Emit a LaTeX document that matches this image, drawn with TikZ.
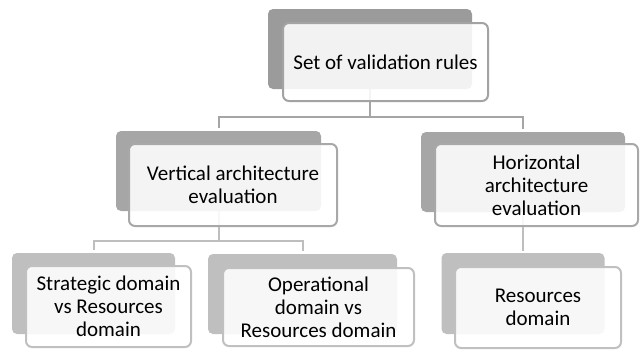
\documentclass[tikz,border=0pt]{standalone}
\usepackage{fontspec}
\setmainfont{Carlito}
\usetikzlibrary{calc}
\definecolor{shadeA}{RGB}{155,155,155}
\definecolor{shadeB}{RGB}{166,166,166}
\definecolor{shadeC}{RGB}{191,191,191}
\definecolor{rimA}{RGB}{163,163,163}
\definecolor{rimB}{RGB}{168,168,168}
\definecolor{rimC}{RGB}{192,192,192}
\definecolor{wireA}{RGB}{165,165,165}
\definecolor{wireB}{RGB}{190,190,190}
\tikzset{
  shadowbox/.style={fill=#1, draw=none, rounded corners=5pt, inner sep=0pt},
  textbox/.style={draw=#1, line width=2pt, fill=white, fill opacity=0.88,
    text opacity=1, rounded corners=6pt, inner sep=0pt, align=center,
    font=\fontsize{21}{23}\selectfont},
  link/.style={draw=#1, line width=2pt},
}
\begin{document}
\begin{tikzpicture}[x=1pt,y=-1pt]
\useasboundingbox (0,0) rectangle (640,351);

% junction points of the branching connectors
\coordinate (j1) at (370,117);
\coordinate (j2) at (218.5,241);

% back plates
\node[shadowbox=shadeA, minimum width=204pt, minimum height=80pt] (topB) at (370,49) {};
\node[shadowbox=shadeB, minimum width=205pt, minimum height=80pt] (mlB) at (218.5,171) {};
\node[shadowbox=shadeB, minimum width=204pt, minimum height=80pt] (mrB) at (523,172) {};
\node[shadowbox=shadeC, minimum width=163pt, minimum height=81pt] (blB) at (93.5,293.5) {};
\node[shadowbox=shadeC, minimum width=189pt, minimum height=80pt] (bmB) at (302.5,294) {};
\node[shadowbox=shadeC, minimum width=163pt, minimum height=81pt] (brB) at (523,293.5) {};

% connectors between the plates
\draw[link=wireA] (topB.south) -- (j1);
\draw[link=wireA, shorten >=3pt] (j1) -| (mlB.north);
\draw[link=wireA, shorten >=3pt] (j1) -| (mrB.north);
\draw[link=wireB] (mlB.south) -- (j2);
\draw[link=wireB, shorten >=3pt] (j2) -| (blB.north);
\draw[link=wireB, shorten >=3pt] (j2) -| (bmB.north);
\draw[link=wireB, shorten >=2pt] (mrB.south) -- (brB.north);

% text boxes
\node[textbox=rimA, minimum width=205pt, minimum height=78pt] (topF) at (385.5,62) {Set of validation rules};
\node[textbox=rimB, minimum width=208pt, minimum height=82pt] (mlF) at (233,185) {Vertical architecture\\evaluation};
\node[textbox=rimB, minimum width=203pt, minimum height=82pt] (mrF) at (536.5,185) {Horizontal\\architecture\\evaluation};
\node[textbox=rimC, minimum width=165pt, minimum height=81pt] (blF) at (108.5,306.5) {Strategic domain\\vs Resources\\domain};
\node[textbox=rimC, minimum width=191pt, minimum height=78pt] (bmF) at (318.5,307) {Operational\\domain vs\\Resources domain};
\node[textbox=rimC, minimum width=166pt, minimum height=81pt] (brF) at (538,307.5) {Resources\\domain};
\end{tikzpicture}
\end{document}
